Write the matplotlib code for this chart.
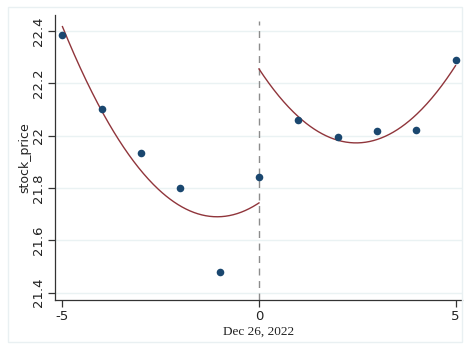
import matplotlib
matplotlib.use("Agg")
import matplotlib.pyplot as plt
import numpy as np
from matplotlib.patches import Rectangle

# days relative to the event and the observed price
days = [-5, -4, -3, -2, -1, 0, 1, 2, 3, 4, 5]
stock_price = [22.385, 22.10, 21.933, 21.80, 21.478, 21.842,
               22.06, 21.995, 22.018, 22.022, 22.29]
yticks = [21.4, 21.6, 21.8, 22.0, 22.2, 22.4]
ytick_labels = ["21.4", "21.6", "21.8", "22", "22.2", "22.4"]
xticks = [-5, 0, 5]

x = np.array(days)
y = np.array(stock_price)

# quadratic fit on each side of the cutoff
left = x <= 0
right = x > 0
fit_l = np.polyfit(x[left], y[left], 2)
fit_r = np.polyfit(x[right], y[right], 2)
xl = np.linspace(-5, 0, 200)
xr = np.linspace(0, 5, 200)

fig = plt.figure(figsize=(4.66, 3.45), dpi=100)
fig.patches.append(Rectangle((8 / 466, 1 - 342 / 345), 454 / 466, 335 / 345,
                             transform=fig.transFigure, fill=False,
                             edgecolor="#e9f0f2", linewidth=1.0))
ax = fig.add_axes([0.118, 0.130, 0.873, 0.827])

for t in yticks:
    ax.axhline(t, color="#eaf2f3", linewidth=1.0, zorder=0)

ax.axvline(0, color="#8c8c8c", linestyle=(0, (5, 4)), linewidth=1.0,
           ymax=0.98, zorder=1)
ax.plot(xl, np.polyval(fit_l, xl), color="#90353b", linewidth=1.0, zorder=2)
ax.plot(xr, np.polyval(fit_r, xr), color="#90353b", linewidth=1.0, zorder=2)
ax.scatter(x, y, s=30, color="#1a476f", zorder=3, linewidths=0)

ax.set_xlim(-5.19, 5.16)
ax.set_ylim(21.371, 22.461)
ax.set_xticks(xticks)
ax.set_xticklabels([str(t) for t in xticks], fontsize=9.5)
ax.set_yticks(yticks)
ax.set_yticklabels(ytick_labels, fontsize=9.5, rotation=90, va="center")

for s in ["top", "right"]:
    ax.spines[s].set_visible(False)
for s in ["left", "bottom"]:
    ax.spines[s].set_color("#333333")
    ax.spines[s].set_linewidth(0.9)
ax.tick_params(direction="out", length=5, width=0.9, color="#333333",
               labelcolor="#222222", pad=2)

ax.set_xlabel("Dec 26, 2022", fontsize=9.5, family="Liberation Serif",
              color="#222222", labelpad=2)
ax.set_ylabel("stock_price", fontsize=9, color="#222222", labelpad=1)

fig.savefig("out.png", dpi=100)
